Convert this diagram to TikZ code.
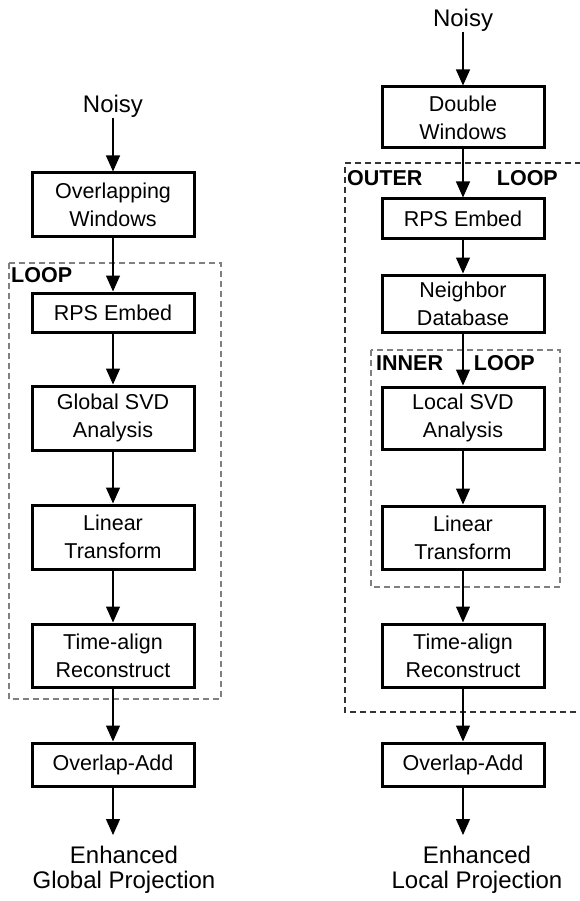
\documentclass[tikz,border=0pt]{standalone}
\usepackage{fontspec}
\setmainfont{Liberation Sans}
\usetikzlibrary{arrows.meta}
\begin{document}
\begin{tikzpicture}[x=1pt,y=-1pt,
  box/.style={draw=black, line width=3pt, minimum width=162pt, inner sep=0pt, align=center,
    font=\fontsize{21.5pt}{28pt}\selectfont},
  conn/.style={line width=1.2pt, -{Triangle[width=14pt,length=16pt]}},
  bigtext/.style={inner sep=0pt, outer sep=0pt, align=center, font=\fontsize{24pt}{25pt}\selectfont},
  looplbl/.style={inner sep=0pt, font=\fontsize{21.5pt}{24pt}\selectfont\bfseries},
  loopgray/.style={draw=black!50, dashed, dash pattern=on 6pt off 4pt, line width=2pt},
  loopdark/.style={draw=black!80, dash pattern=on 6pt off 4pt, line width=1.6pt}]
\useasboundingbox (0,0) rectangle (579,901);
% loop frames
\draw[loopgray] (9,263) rectangle (221,699);
\draw[loopdark] (581,163) -- (345,163) -- (345,712) -- (581,712);
\draw[loopgray] (371,350) rectangle (560,587);
\node[looplbl, anchor=west] (l1) at (11,275) {LOOP};
\node[looplbl, anchor=west] (outerl) at (347,178.5) {OUTER};
\node[looplbl, anchor=east] (outerr) at (558,178.5) {LOOP};
\node[looplbl, anchor=west] (innerl) at (376,363) {INNER};
\node[looplbl, anchor=east] (innerr) at (535,363) {LOOP};
% left column
\node[bigtext, anchor=base] (noisy1) at (113,113) {Noisy};
\node[box, minimum height=63pt] (ow) at (113,204.5) {Overlapping\\Windows};
\node[box, minimum height=39pt] (rps) at (113,312.5) {RPS Embed};
\node[box, minimum height=64pt] (svd) at (113,418) {Global SVD\\Analysis};
\node[box, minimum height=64pt] (lt) at (113,537) {Linear\\Transform};
\node[box, minimum height=63pt] (ta) at (113,655.5) {Time-align\\Reconstruct};
\node[box, minimum height=43pt] (oa) at (113,764.5) {Overlap-Add};
\node[bigtext, anchor=north, inner ysep=11.5pt] (out1) at (124,835) {Enhanced\\Global Projection};
% right column
\node[bigtext, anchor=base] (noisy2) at (463,27) {Noisy};
\node[box, minimum height=61pt] (dw) at (463,117.5) {Double\\Windows};
\node[box, minimum height=39pt] (rps2) at (463,218.5) {RPS Embed};
\node[box, minimum height=57pt] (nd) at (463,303.5) {Neighbor\\Database};
\node[box, minimum height=62pt] (lsvd) at (463,418) {Local SVD\\Analysis};
\node[box, minimum height=63pt] (lt2) at (463,537.5) {Linear\\Transform};
\node[box, minimum height=63pt] (ta2) at (463,655.5) {Time-align\\Reconstruct};
\node[box, minimum height=43pt] (oa2) at (463,764.5) {Overlap-Add};
\node[bigtext, anchor=north, inner ysep=11.5pt] (out2) at (477,835) {Enhanced\\Local Projection};
% connectors
\draw[conn] (noisy1) -- (ow);
\draw[conn] (ow) -- (rps);
\draw[conn] (rps) -- (svd);
\draw[conn] (svd) -- (lt);
\draw[conn] (lt) -- (ta);
\draw[conn] (ta) -- (oa);
\draw[conn] (oa.south) -- (oa.south |- out1.north);
\draw[conn] (noisy2) -- (dw);
\draw[conn] (dw) -- (rps2);
\draw[conn] (rps2) -- (nd);
\draw[conn] (nd) -- (lsvd);
\draw[conn] (lsvd) -- (lt2);
\draw[conn] (lt2) -- (ta2);
\draw[conn] (ta2) -- (oa2);
\draw[conn] (oa2.south) -- (oa2.south |- out2.north);
\end{tikzpicture}
\end{document}
